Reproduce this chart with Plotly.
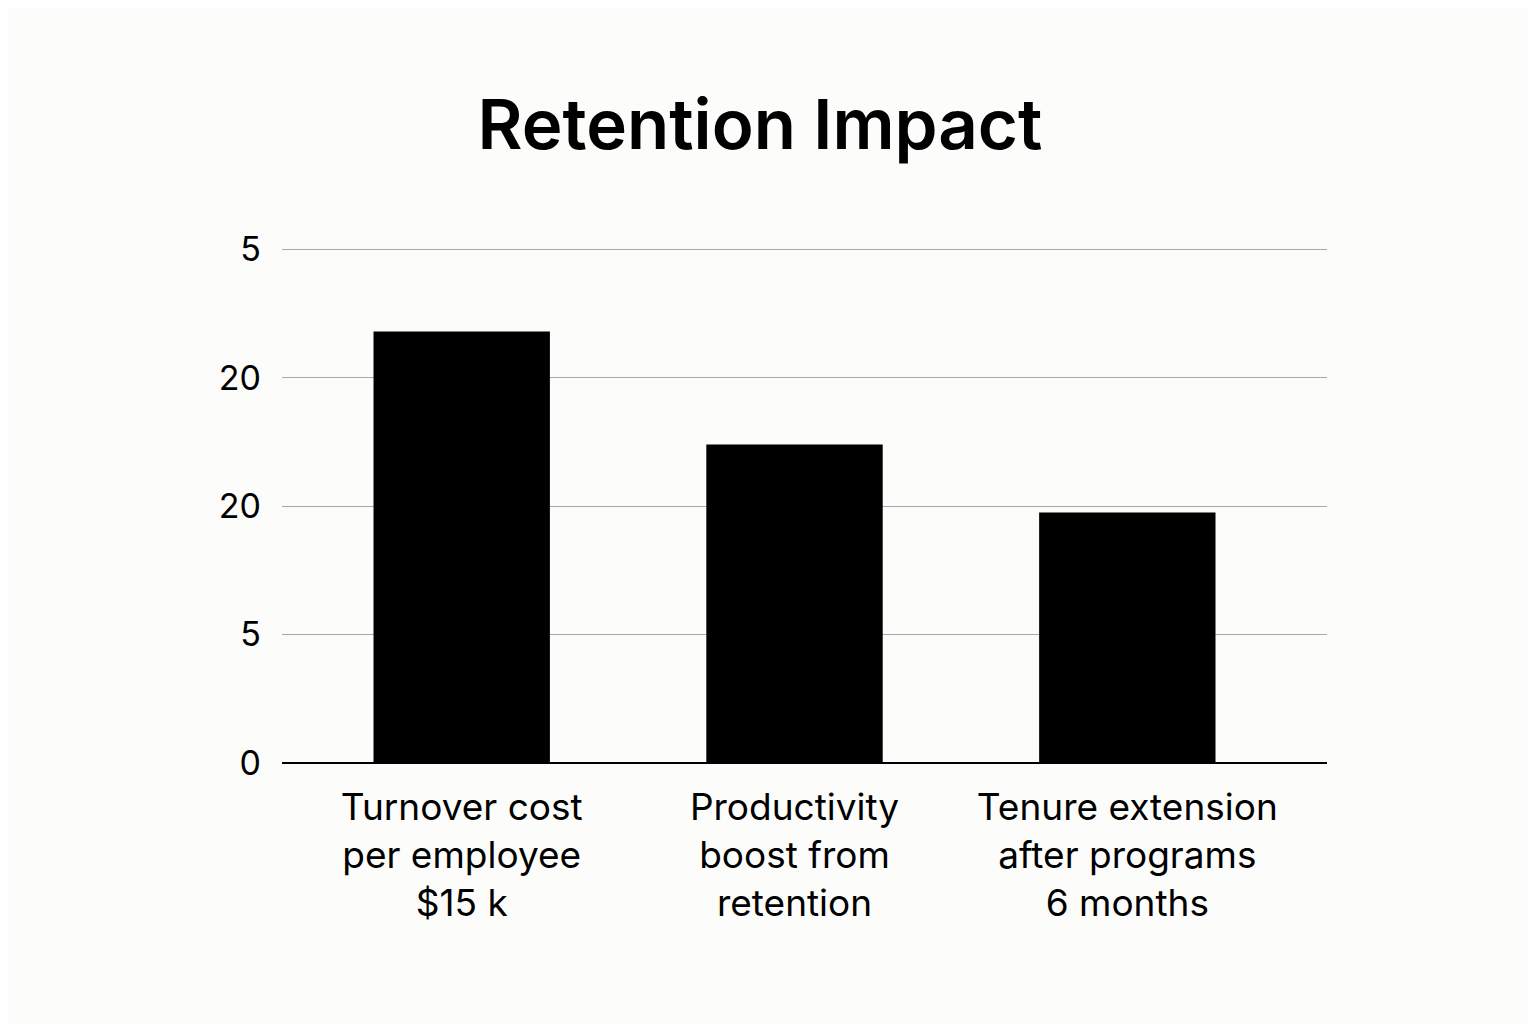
import plotly.graph_objects as go

# chart data
categories = [
    "Turnover cost<br>per employee<br>$15 k",
    "Productivity<br>boost from<br>retention",
    "Tenure extension<br>after programs<br>6 months",
]
values = [3.36, 2.48, 1.95]
tick_vals = [0, 1, 2, 3, 4]
tick_text = ["0", "5", "20", "20", "5"]

font_family = "Inter, Roboto, Arial, sans-serif"

fig = go.Figure(
    go.Bar(
        x=categories,
        y=values,
        width=0.53,
        marker=dict(color="black", line=dict(width=0)),
    )
)

# page has an 8px body margin, so shift everything back by that much
fig.update_layout(
    width=1536,
    height=1024,
    paper_bgcolor="#fcfcfa",
    plot_bgcolor="#fcfcfa",
    margin=dict(l=274, r=217, t=240, b=269),
    showlegend=False,
    font=dict(family=font_family, color="black"),
    title=dict(
        text="Retention Impact",
        x=0.4896,
        xanchor="center",
        y=1 - 117 / 1024,
        yanchor="middle",
        font=dict(size=69, family=font_family, color="black", weight=600),
    ),
)

fig.update_xaxes(
    range=[-0.54, 2.6],
    showgrid=False,
    showline=False,
    ticks="",
    tickfont=dict(size=37),
    ticklabelstandoff=19,
)

fig.update_yaxes(
    range=[0, 4.01],
    tickvals=tick_vals,
    ticktext=tick_text,
    showgrid=True,
    gridcolor="#a8a8a8",
    gridwidth=1,
    zeroline=True,
    zerolinecolor="black",
    zerolinewidth=2,
    showline=False,
    ticks="",
    tickfont=dict(size=34),
    ticklabelstandoff=20,
)

fig.write_html("out.html")
